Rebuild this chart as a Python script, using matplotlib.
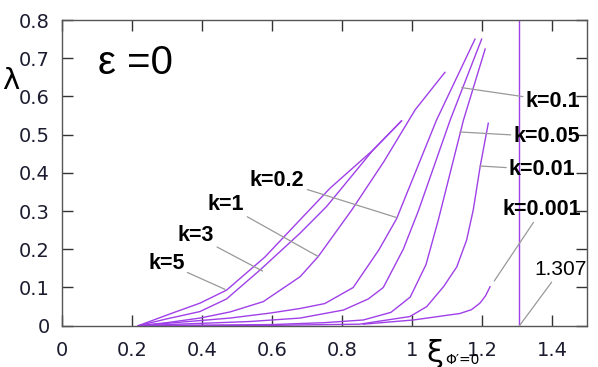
import matplotlib
matplotlib.use('Agg')
import matplotlib.pyplot as plt
from matplotlib.ticker import FuncFormatter

# curves: xi (x) and lambda (y) for each k
k_labels = ['k=5', 'k=3', 'k=1', 'k=0.2', 'k=0.1', 'k=0.05', 'k=0.01', 'k=0.001']

xi_k5 = [0.218, 0.30, 0.394, 0.47, 0.58, 0.68, 0.766, 0.889, 0.97]
lam_k5 = [0.0, 0.028, 0.059, 0.093, 0.18, 0.277, 0.36, 0.46, 0.536]

xi_k3 = [0.218, 0.30, 0.394, 0.47, 0.566, 0.68, 0.756, 0.889, 0.97]
lam_k3 = [0.0, 0.018, 0.037, 0.07, 0.146, 0.242, 0.312, 0.46, 0.536]

xi_k1 = [0.218, 0.30, 0.394, 0.48, 0.575, 0.68, 0.732, 0.828, 0.92, 1.009, 1.094]
lam_k1 = [0.0, 0.008, 0.02, 0.036, 0.063, 0.128, 0.181, 0.303, 0.43, 0.565, 0.663]

xi_k02 = [0.218, 0.48, 0.594, 0.68, 0.751, 0.832, 0.905, 0.956, 1.07, 1.18]
lam_k02 = [0.0, 0.02, 0.033, 0.045, 0.058, 0.10, 0.198, 0.28, 0.538, 0.75]

xi_k01 = [0.218, 0.537, 0.68, 0.804, 0.875, 0.918, 0.975, 1.018, 1.109, 1.199]
lam_k01 = [0.0, 0.011, 0.02, 0.041, 0.07, 0.10, 0.20, 0.30, 0.538, 0.75]

xi_k005 = [0.218, 0.6, 0.75, 0.861, 0.94, 0.995, 1.04, 1.075, 1.147, 1.209]
lam_k005 = [0.0, 0.003, 0.008, 0.015, 0.035, 0.075, 0.16, 0.276, 0.538, 0.724]

xi_k001 = [0.218, 0.6, 0.85, 0.994, 1.042, 1.09, 1.128, 1.156, 1.175, 1.195, 1.218]
lam_k001 = [0.0, 0.001, 0.004, 0.024, 0.05, 0.102, 0.154, 0.224, 0.303, 0.418, 0.53]

xi_k0001 = [0.861, 1.004, 1.137, 1.17, 1.194, 1.21, 1.223]
lam_k0001 = [0.004, 0.015, 0.032, 0.042, 0.059, 0.078, 0.102]

xi_limit = 1.307

curves = [(xi_k5, lam_k5), (xi_k3, lam_k3), (xi_k1, lam_k1), (xi_k02, lam_k02),
          (xi_k01, lam_k01), (xi_k005, lam_k005), (xi_k001, lam_k001),
          (xi_k0001, lam_k0001)]

# where each label sits and which point of its curve it points at
label_pos = [(0.246, 0.164), (0.331, 0.235), (0.417, 0.316), (0.537, 0.381),
             (1.325, 0.588), (1.29, 0.494), (1.277, 0.408), (1.26, 0.305)]
label_target = [(0.466, 0.095), (0.573, 0.143), (0.732, 0.181), (0.956, 0.283),
                (1.142, 0.623), (1.137, 0.507), (1.194, 0.418), (1.235, 0.117)]

purple = '#a040e8'
tick_col = '#1c1c30'

fig = plt.figure(figsize=(5.98, 3.67), dpi=100)
ax = fig.add_axes([0.1037, 0.1125, 0.8779, 0.833])

for xs, ys in curves:
    ax.plot(xs, ys, color=purple, lw=1.0)
ax.plot([xi_limit, xi_limit], [0, 0.8], color=purple, lw=1.0)

for lab, pos, tgt in zip(k_labels, label_pos, label_target):
    ax.annotate(lab, xy=tgt, xytext=pos, ha='left', va='center',
                fontsize=15.5, fontweight='bold', family='Liberation Sans',
                arrowprops=dict(arrowstyle='-', color='#999999', lw=0.9,
                                shrinkA=0, shrinkB=0))
ax.annotate('1.307', xy=(xi_limit, 0), xytext=(1.35, 0.146), ha='left', va='center',
            fontsize=15, family='Liberation Sans',
            arrowprops=dict(arrowstyle='-', color='#999999', lw=0.9,
                            shrinkA=0, shrinkB=0))

ax.set_xlim(0, 1.5)
ax.set_ylim(0, 0.8)
ax.set_xticks([0, 0.2, 0.4, 0.6, 0.8, 1.0, 1.2, 1.4])
ax.set_yticks([0, 0.1, 0.2, 0.3, 0.4, 0.5, 0.6, 0.7, 0.8])
ax.xaxis.set_major_formatter(FuncFormatter(lambda v, p: '%g' % round(v, 2)))
ax.yaxis.set_major_formatter(FuncFormatter(lambda v, p: '%g' % round(v, 2)))
ax.tick_params(direction='in', length=8, width=1, top=True, right=True,
               labelsize=14, labelcolor=tick_col, color='#333333')
ax.tick_params(axis='x', pad=11)
ax.tick_params(axis='y', pad=9)
for s in ax.spines.values():
    s.set_color('#555555')
    s.set_linewidth(1.0)

ax.text(0.103, 0.688, 'ε =0', fontsize=29, family='Liberation Sans', va='center')
fig.text(0.003, 0.78, 'λ', fontsize=21, family='DejaVu Sans', va='center')
ax.text(1.04, -0.072, 'ξ', fontsize=22, family='DejaVu Sans', ha='left',
        va='center', clip_on=False)
ax.text(1.094, -0.09, 'Φ′=0', fontsize=10, family='DejaVu Sans', ha='left',
        va='center', clip_on=False)

fig.savefig('out.png', dpi=100)
